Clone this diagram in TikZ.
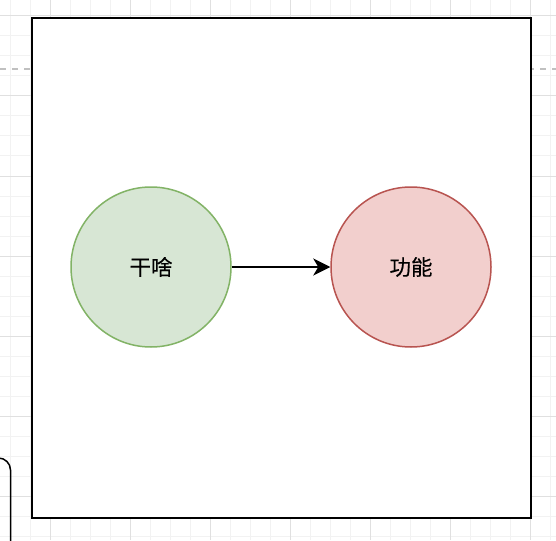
\documentclass[tikz,border=0pt]{standalone}
\usepackage{fontspec}
\newfontfamily\cjk[FakeBold=0.3]{Noto Sans CJK SC}
\usetikzlibrary{arrows.meta}
\definecolor{gridminor}{HTML}{F2F2F2}
\definecolor{gridmajor}{HTML}{E0E0E0}
\definecolor{guide}{HTML}{C0C0C0}
\definecolor{greenfill}{HTML}{D7E6D4}
\definecolor{greenline}{HTML}{82B366}
\definecolor{redfill}{HTML}{F2CFCD}
\definecolor{redline}{HTML}{B85450}
\tikzset{
  bubble/.style={circle, minimum size=160pt, inner sep=0pt, line width=1.5pt,
    font=\cjk\fontsize{21.5}{25}\selectfont},
  greenbubble/.style={bubble, fill=greenfill, draw=greenline},
  redbubble/.style={bubble, fill=redfill, draw=redline},
  link/.style={line width=1.6pt, -{Stealth[length=17pt, width=17pt, inset=5pt]}},
}
\begin{document}
\begin{tikzpicture}[x=1pt, y=-1pt]
  \useasboundingbox (0,0) rectangle (556,540);
  \fill[white] (0,0) rectangle (556,540);
  % background grid
  \foreach \gx in {10,30,...,550} \draw[gridminor, line width=1pt] (\gx,0) -- (\gx,540);
  \foreach \gy in {16,36,...,536} \draw[gridminor, line width=1pt] (0,\gy) -- (556,\gy);
  \foreach \gx in {50,130,...,530} \draw[gridmajor, line width=1pt] (\gx,0) -- (\gx,540);
  \foreach \gy in {16,96,...,536} \draw[gridmajor, line width=1pt] (0,\gy) -- (556,\gy);
  % page break guide
  \draw[guide, line width=1.5pt, dash pattern=on 6pt off 6pt] (0,69) -- (556,69);
  % partially visible rounded shape at the lower left
  \draw[line width=1.5pt, rounded corners=12pt] (-40,458) -- (10.5,458) -- (10.5,560);
  % frame
  \node[draw, fill=white, line width=1.8pt, minimum width=499pt, minimum height=500pt,
    inner sep=0pt, anchor=north west] (frame) at (31,17) {};
  \node[greenbubble] (what) at (151,267) {干啥};
  \node[redbubble] (feature) at (411,267) {功能};
  \draw[link] (what) -- (feature);
\end{tikzpicture}
\end{document}
